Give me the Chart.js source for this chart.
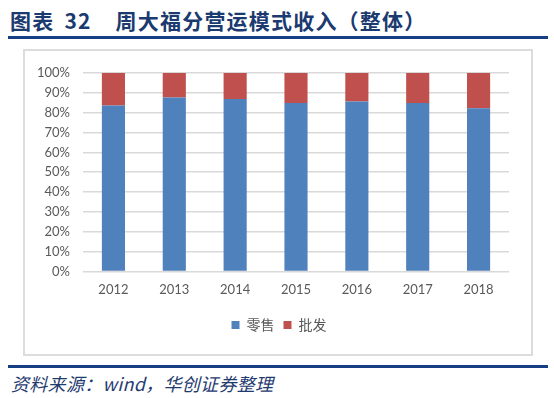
<!DOCTYPE html>
<html>
<head>
<meta charset="utf-8">
<script src="https://cdn.jsdelivr.net/npm/chart.js@4"></script>
<style>
  body { margin: 0; background: #fff; width: 554px; height: 398px; position: relative; overflow: hidden; }
  .title { position: absolute; left: 10px; top: 5px; font-family: "Noto Sans CJK SC", sans-serif; font-weight: bold; font-size: 21px; color: #1b3a70; letter-spacing: 1.2px; white-space: nowrap; }
  .title .num { margin: 0 24px 0 10px; }
  .rule { position: absolute; left: 8px; width: 540px; height: 3px; background: #163e82; }
  .frame { position: absolute; left: 23px; top: 49px; width: 506px; height: 303px; border: 2px solid #dcdcdc; }
  .chartbox { position: absolute; left: 25px; top: 51px; width: 506px; height: 303px; }
  .source { position: absolute; left: 11px; top: 370px; font-family: "Noto Sans CJK SC", serif; font-style: italic; font-size: 18px; color: #1f3b70; letter-spacing: 0.3px; white-space: nowrap; }
</style>
</head>
<body>
<div class="title">图表<span class="num">32</span>周大福分营运模式收入（整体）</div>
<div class="rule" style="top:36px"></div>
<div class="frame"></div>
<div class="chartbox"><canvas id="revenueChart"></canvas></div>
<div class="rule" style="top:365px"></div>
<div class="source">资料来源：wind，华创证券整理</div>
<script>
const years = ['2012', '2013', '2014', '2015', '2016', '2017', '2018'];
const retail = [83.6, 87.6, 86.9, 84.9, 85.6, 84.9, 82.2];
const wholesale = [16.4, 12.4, 13.1, 15.1, 14.4, 15.1, 17.8];
const yTicks = [0, 10, 20, 30, 40, 50, 60, 70, 80, 90, 100];

const revenueChart = document.getElementById('revenueChart');

// nudge the legend a bit to the right, like the original
const legendShift = {
  id: 'legendShift',
  afterLayout(chart) {
    chart.legend.left += 12;
    chart.legend.right += 12;
  }
};

new Chart(revenueChart, {
  type: 'bar',

  data: {
    labels: years,

    datasets: [{
      label: '零售',
      data: retail,
      backgroundColor: '#4f81bd'
    }, {
      label: '批发',
      data: wholesale,
      backgroundColor: '#c0504d'
    }]
  },

  options: {
    responsive: true,
    maintainAspectRatio: false,
    animation: false,

    datasets: {
      bar: {
        categoryPercentage: 1,
        barPercentage: 0.38
      }
    },

    layout: {
      padding: { top: 22, right: 22, left: 0, bottom: 12 }
    },

    scales: {
      x: {
        stacked: true,
        grid: { display: false, drawTicks: false },
        border: { display: false },
        ticks: {
          padding: 11,
          color: '#595959',
          font: { family: 'Lato', size: 13 }
        }
      },
      y: {
        stacked: true,
        min: 0,
        max: 100,
        afterFit: (scale) => { scale.width = 58; },
        afterBuildTicks: (scale) => { scale.ticks = yTicks.map(v => ({ value: v })); },
        grid: { color: '#d9d9d9', lineWidth: 1.5, drawTicks: false },
        border: { display: false },
        ticks: {
          padding: 13,
          color: '#595959',
          font: { family: 'Lato', size: 13 },
          callback: (v) => v + '%'
        }
      }
    },

    plugins: {
      legend: {
        position: 'bottom',
        labels: {
          boxWidth: 8,
          boxHeight: 8,
          padding: 9,
          color: '#595959',
          font: { family: 'Noto Sans CJK SC', size: 14 }
        }
      },
      tooltip: { enabled: false }
    }
  },

  plugins: [legendShift]
});
</script>
</body>
</html>
